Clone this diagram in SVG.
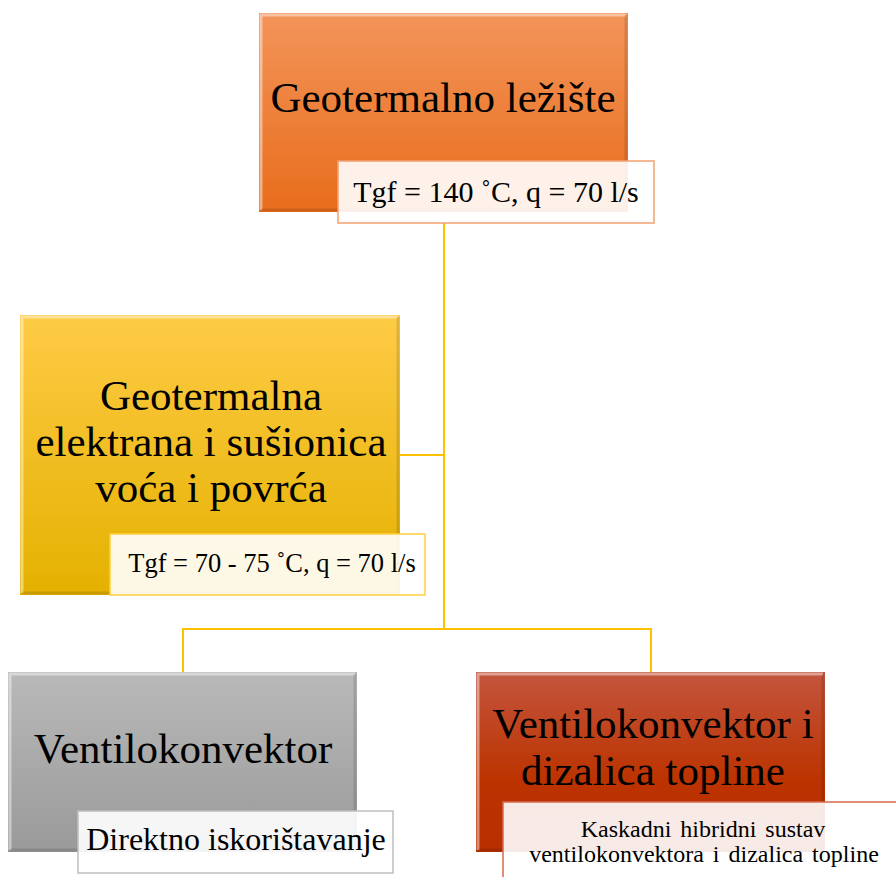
<svg xmlns="http://www.w3.org/2000/svg" width="896" height="877" viewBox="0 0 896 877">
<style>
.t{font-family:"Liberation Serif","Times New Roman",serif;fill:#000;text-anchor:middle}
.big{font-size:43px}
.lab{fill:#fff;fill-opacity:0.9;stroke-width:1.5}
.hl{fill:none;stroke:#fff;stroke-opacity:0.45;stroke-width:3}
.sh{fill:none;stroke:#000;stroke-opacity:0.12;stroke-width:3}
.con{fill:none;stroke:#FFC000;stroke-width:2}
</style>
<defs>
<linearGradient id="gO" x1="0" y1="0" x2="0" y2="1"><stop offset="0" stop-color="#F39459"/><stop offset="1" stop-color="#E86D1C"/></linearGradient>
<linearGradient id="gY" x1="0" y1="0" x2="0" y2="1"><stop offset="0" stop-color="#FECB46"/><stop offset="1" stop-color="#E4B100"/></linearGradient>
<linearGradient id="gG" x1="0" y1="0" x2="0" y2="1"><stop offset="0" stop-color="#B9B9B9"/><stop offset="1" stop-color="#9A9A9A"/></linearGradient>
<linearGradient id="gR" x1="0" y1="0" x2="0" y2="1"><stop offset="0" stop-color="#C3553E"/><stop offset="0.6" stop-color="#BC3300"/><stop offset="1" stop-color="#B83000"/></linearGradient>
</defs>
<g id="connectors">
<path class="con" d="M444,223 V629"/>
<path class="con" d="M400,455 H444"/>
<path class="con" d="M183,672 V629 H651 V672"/>
</g>
<g id="node-lezište">
<rect x="259" y="13" width="369" height="199" fill="url(#gO)"/>
<path class="hl" d="M261,210 V15 H626"/>
<path class="sh" d="M626,15 V210 H261"/>
<text class="t big" x="443" y="112">Geotermalno  ležište</text>
<rect class="lab" x="338" y="161" width="316" height="62" stroke="#F4A070"/>
<text class="t" x="496" y="202" font-size="30">Tgf = 140 ˚C, q = 70 l/s</text>
</g>
<g id="node-elektrana">
<rect x="20" y="315" width="380" height="280" fill="url(#gY)"/>
<path class="hl" d="M22,593 V317 H398"/>
<path class="sh" d="M398,317 V593 H22"/>
<text class="t big" x="211" y="410">Geotermalna</text>
<text class="t big" x="211" y="456">elektrana i sušionica</text>
<text class="t big" x="211" y="502">voća i povrća</text>
<rect class="lab" x="110" y="534" width="315" height="61" stroke="#FFD040"/>
<text class="t" x="272" y="572" font-size="26.5">Tgf = 70 - 75 ˚C, q = 70 l/s</text>
</g>
<g id="node-ventilokonvektor">
<rect x="8" y="672" width="349" height="180" fill="url(#gG)"/>
<path class="hl" d="M10,850 V674 H355"/>
<path class="sh" d="M355,674 V850 H10"/>
<text class="t big" x="183" y="763">Ventilokonvektor</text>
<rect class="lab" x="78" y="811" width="315" height="62" stroke="#BFBFBF"/>
<text class="t" x="236" y="850" font-size="32">Direktno iskorištavanje</text>
</g>
<g id="node-dizalica">
<rect x="476" y="672" width="349" height="180" fill="url(#gR)"/>
<path class="hl" d="M478,850 V674 H823"/>
<path class="sh" d="M823,674 V850 H478"/>
<text class="t big" x="653" y="738">Ventilokonvektor i</text>
<text class="t big" x="653" y="785">dizalica topline</text>
<rect class="lab" x="503" y="802" width="400" height="80" stroke="#D8694E"/>
<text class="t" x="703" y="837" font-size="24" word-spacing="3">Kaskadni hibridni sustav</text>
<text class="t" x="704" y="862" font-size="24" word-spacing="3">ventilokonvektora i dizalica topline</text>
</g>
</svg>
